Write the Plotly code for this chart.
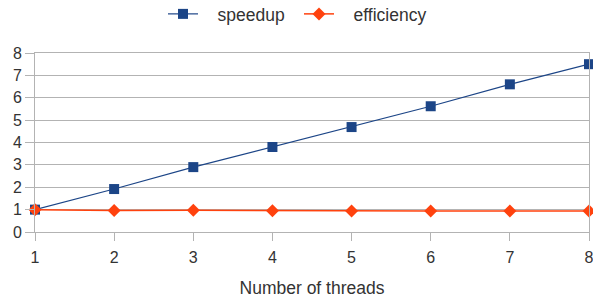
import plotly.graph_objects as go

threads = [1, 2, 3, 4, 5, 6, 7, 8]
speedup = [1.0, 1.92, 2.9, 3.8, 4.69, 5.62, 6.6, 7.5]
efficiency = [1.0, 0.96, 0.97, 0.95, 0.94, 0.94, 0.94, 0.94]
series_names = ["speedup", "efficiency"]

pad = "\u00a0\u00a0\u00a0"

fig = go.Figure()
fig.add_trace(go.Scatter(x=threads, y=speedup, name=pad + series_names[0], mode="lines+markers",
                         line=dict(color="#1c4587", width=1.2),
                         marker=dict(symbol="square", size=10, color="#1c4587"),
                         cliponaxis=False))
fig.add_trace(go.Scatter(x=threads, y=efficiency, name=pad + series_names[1], mode="lines+markers",
                         line=dict(color="#ff420e", width=1.5),
                         marker=dict(symbol="diamond", size=10, color="#ff420e"),
                         cliponaxis=False))

fig.update_layout(
    width=593, height=302,
    margin=dict(l=35, r=4, t=53, b=70, autoexpand=False),
    paper_bgcolor="white", plot_bgcolor="white",
    font=dict(family="Liberation Sans, Arial, sans-serif", size=16, color="#333333"),
    showlegend=True,
    legend=dict(orientation="h", x=0.5 + 2.5 / 593, xanchor="center", xref="container",
                y=1 - 14 / 302, yanchor="middle", yref="container",
                font=dict(size=17.5), entrywidth=91),
    xaxis=dict(range=[1, 8], tickmode="array", tickvals=threads, showgrid=False,
               showline=True, linecolor="#b3b3b3", linewidth=1, mirror=True,
               ticks="outside", ticklen=8, tickcolor="#b3b3b3", zeroline=False,
               ticklabeloverflow="allow", ticklabelstandoff=3,
               title=dict(text="Number of threads", font=dict(size=17.5), standoff=16),
               fixedrange=True),
    yaxis=dict(range=[0, 8], dtick=1, showgrid=True, gridcolor="#b3b3b3", gridwidth=1,
               showline=True, linecolor="#b3b3b3", linewidth=1, mirror=True,
               ticks="outside", ticklen=9, tickcolor="#b3b3b3", zeroline=False,
               ticklabeloverflow="allow", fixedrange=True),
)

fig.write_html("out.html", config={"displayModeBar": False},
               post_script="document.body.style.margin='0';")
